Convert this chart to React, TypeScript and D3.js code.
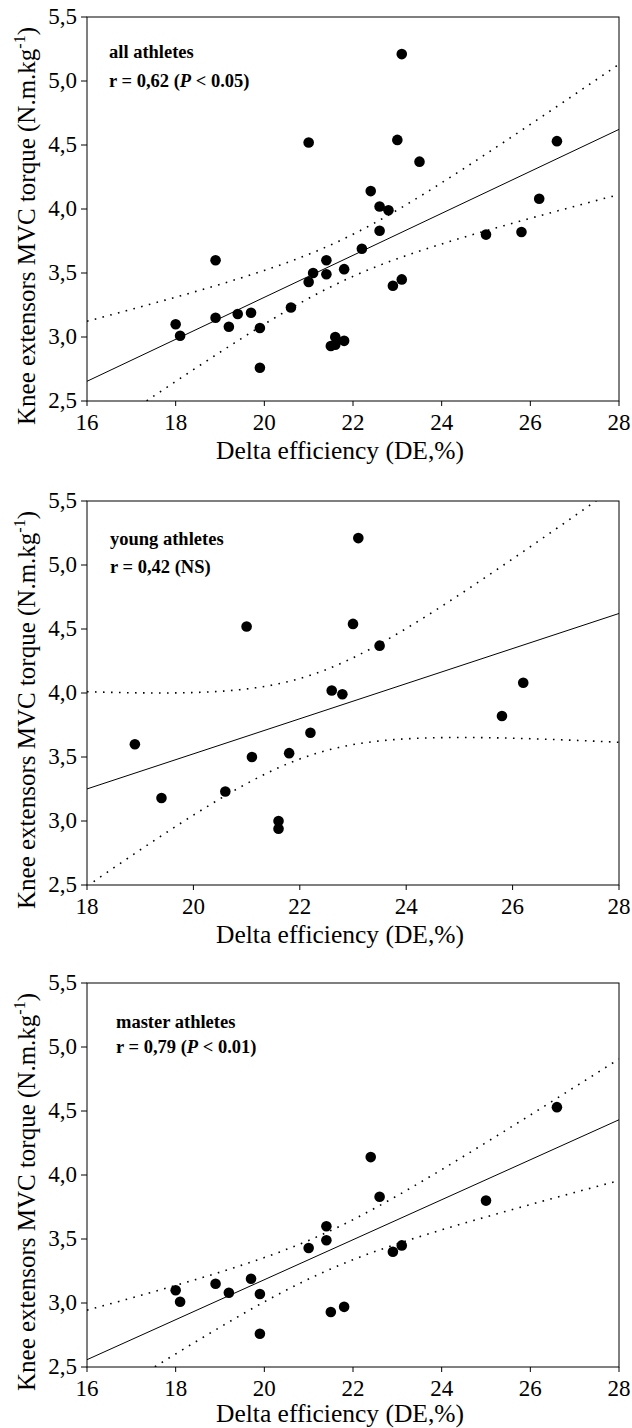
import React from "react";
import * as d3 from "d3";

// ---- data ----
const youngDE = [18.9, 19.4, 20.6, 21.0, 21.1, 21.6, 21.6, 21.8, 22.2, 22.6, 22.8, 23.0, 23.1, 23.5, 25.8, 26.2];
const youngTorque = [3.60, 3.18, 3.23, 4.52, 3.50, 3.00, 2.94, 3.53, 3.69, 4.02, 3.99, 4.54, 5.21, 4.37, 3.82, 4.08];

const masterDE = [18.0, 18.1, 18.9, 19.2, 19.7, 19.9, 19.9, 21.0, 21.4, 21.4, 21.5, 21.8, 22.4, 22.6, 22.9, 23.1, 25.0, 26.6];
const masterTorque = [3.10, 3.01, 3.15, 3.08, 3.19, 3.07, 2.76, 3.43, 3.60, 3.49, 2.93, 2.97, 4.14, 3.83, 3.40, 3.45, 3.80, 4.53];

const allDE = [...youngDE, ...masterDE];
const allTorque = [...youngTorque, ...masterTorque];

const panelNames = ["all athletes", "young athletes", "master athletes"];
const panelR = ["0,62", "0,42", "0,79"];
const panelP = ["0.05", "NS", "0.01"];
const xDomains: [number, number][] = [[16, 28], [18, 28], [16, 28]];
const yTicks = [2.5, 3.0, 3.5, 4.0, 4.5, 5.0, 5.5];
const xTicksAll = [16, 18, 20, 22, 24, 26, 28];
const xTicksYoung = [18, 20, 22, 24, 26, 28];

const xTitle = "Delta efficiency (DE,%)";
const yTitleMain = "Knee extensors MVC torque (N.m.kg";

// ---- layout ----
const W = 632;
const H = 1428;
const left = 87;
const right = 619;
const tops = [17, 501, 983];
const plotH = 384;
const labelX = [109, 110, 116];
const labelY1 = [41, 44, 45];
const labelY2 = [70, 72, 70];
const xTitleOff = [58, 58, 55];
const FONT = '"Liberation Serif", "DejaVu Serif", serif';

function tQuantile975(df: number) {
  const z = 1.959964;
  const g1 = (z ** 3 + z) / 4;
  const g2 = (5 * z ** 5 + 16 * z ** 3 + 3 * z) / 96;
  const g3 = (3 * z ** 7 + 19 * z ** 5 + 17 * z ** 3 - 15 * z) / 384;
  const g4 = (79 * z ** 9 + 776 * z ** 7 + 1482 * z ** 5 - 1920 * z ** 3 - 945 * z) / 92160;
  return z + g1 / df + g2 / df ** 2 + g3 / df ** 3 + g4 / df ** 4;
}

function regress(xs: number[], ys: number[]) {
  const n = xs.length;
  const mx = d3.mean(xs)!;
  const my = d3.mean(ys)!;
  let sxx = 0, sxy = 0;
  for (let i = 0; i < n; i++) {
    sxx += (xs[i] - mx) ** 2;
    sxy += (xs[i] - mx) * (ys[i] - my);
  }
  const b = sxy / sxx;
  const a = my - b * mx;
  let sse = 0;
  for (let i = 0; i < n; i++) sse += (ys[i] - (a + b * xs[i])) ** 2;
  const s = Math.sqrt(sse / (n - 2));
  const t = tQuantile975(n - 2);
  const half = (x: number) => t * s * Math.sqrt(1 / n + (x - mx) ** 2 / sxx);
  return { a, b, half };
}

const fmt = (v: number) => d3.format(".1f")(v).replace(".", ",");
const txt = (size: number, extra: React.CSSProperties = {}): React.CSSProperties => ({
  fontFamily: FONT,
  fontSize: size,
  ...extra,
});

function Panel({ idx, xs, ys }: { idx: number; xs: number[]; ys: number[] }) {
  const top = tops[idx];
  const bottom = top + plotH;
  const x = d3.scaleLinear().domain(xDomains[idx]).range([left, right]);
  const y = d3.scaleLinear().domain([2.5, 5.5]).range([bottom, top]);
  const { a, b, half } = regress(xs, ys);
  const [x0, x1] = xDomains[idx];
  const samples = d3.range(0, 301).map((i) => x0 + ((x1 - x0) * i) / 300);
  const line = d3.line<number[]>().x((d) => x(d[0])).y((d) => y(d[1]));
  const fit = line([[x0, a + b * x0], [x1, a + b * x1]]) || "";
  const upper = line(samples.map((v) => [v, a + b * v + half(v)])) || "";
  const lower = line(samples.map((v) => [v, a + b * v - half(v)])) || "";
  const xt = idx === 1 ? xTicksYoung : xTicksAll;
  const clipId = `clip${idx}`;
  const cy = (top + bottom) / 2 + 17;
  return (
    <g>
      <defs>
        <clipPath id={clipId}>
          <rect x={left} y={top} width={right - left} height={plotH} />
        </clipPath>
      </defs>
      <g clipPath={`url(#${clipId})`}>
        <path d={fit} fill="none" stroke="#000" strokeWidth={1} />
        <path d={upper} fill="none" stroke="#000" strokeWidth={1.6} strokeDasharray="1.6 6.4" />
        <path d={lower} fill="none" stroke="#000" strokeWidth={1.6} strokeDasharray="1.6 6.4" />
      </g>
      {xs.map((v, i) => (
        <circle key={i} cx={x(v)} cy={y(ys[i])} r={5.3} fill="#000" />
      ))}
      <rect x={left} y={top} width={right - left} height={plotH} fill="none" stroke="#000" strokeWidth={1} />
      {yTicks.map((t) => (
        <g key={t}>
          <line x1={left - 6} x2={left} y1={y(t)} y2={y(t)} stroke="#000" />
          <text x={left - 10} y={y(t) + 7} textAnchor="end" style={txt(23)}>{fmt(t)}</text>
        </g>
      ))}
      {xt.map((t) => (
        <g key={t}>
          <line x1={x(t)} x2={x(t)} y1={bottom} y2={bottom + 5} stroke="#000" />
          <text x={x(t)} y={bottom + 29} textAnchor="middle" style={txt(23)}>{t}</text>
        </g>
      ))}
      <text x={(left + right) / 2 - 13} y={bottom + xTitleOff[idx]} textAnchor="middle" style={txt(25.5)}>{xTitle}</text>
      <text transform={`translate(35,${cy}) rotate(-90)`} textAnchor="middle" style={txt(25)}>
        {yTitleMain}
        <tspan style={txt(16)} dy={-10}>-1</tspan>
        <tspan dy={10}>)</tspan>
      </text>
      <text x={labelX[idx]} y={top + labelY1[idx]} style={txt(18.5, { fontWeight: "bold" })}>{panelNames[idx]}</text>
      <text x={labelX[idx]} y={top + labelY2[idx]} style={txt(18.5, { fontWeight: "bold" })}>
        {`r = ${panelR[idx]} (`}
        {panelP[idx] === "NS" ? (
          <tspan>NS)</tspan>
        ) : (
          <>
            <tspan style={{ fontStyle: "italic" }}>P</tspan>
            <tspan>{` < ${panelP[idx]})`}</tspan>
          </>
        )}
      </text>
    </g>
  );
}

export default function App() {
  return (
    <svg width={W} height={H} style={{ position: "absolute", left: 0, top: 0, background: "#fff" }}>
      <rect width={W} height={H} fill="#fff" />
      <Panel idx={0} xs={allDE} ys={allTorque} />
      <Panel idx={1} xs={youngDE} ys={youngTorque} />
      <Panel idx={2} xs={masterDE} ys={masterTorque} />
    </svg>
  );
}
